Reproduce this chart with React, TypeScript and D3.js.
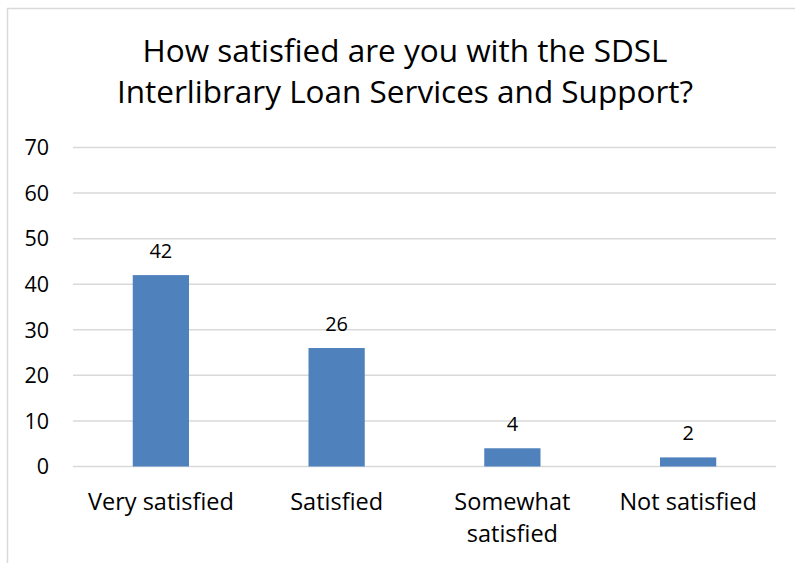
import { useEffect, useRef } from 'react';
import * as d3 from 'd3';

// Survey answers and counts
const categories = ['Very satisfied', 'Satisfied', 'Somewhat satisfied', 'Not satisfied'];
const counts = [42, 26, 4, 2];
const yTicks = [0, 10, 20, 30, 40, 50, 60, 70];
const titleLines = ['How satisfied are you with the SDSL', 'Interlibrary Loan Services and Support?'];

const width = 795;
const height = 563;
const margin = { top: 147.5, right: 19, bottom: 96.5, left: 73 };
const FONT = '"Open Sans", Lato, sans-serif';

export default function App() {
  const svgRef = useRef<SVGSVGElement>(null);

  useEffect(() => {
    if (!svgRef.current) return;
    const svg = d3.select(svgRef.current);
    svg.selectAll('*').remove();

    const innerWidth = width - margin.left - margin.right;
    const innerHeight = height - margin.top - margin.bottom;

    const x = d3.scaleBand().domain(categories).range([0, innerWidth]).paddingInner(0.68).paddingOuter(0.34);
    const y = d3.scaleLinear().domain([0, 70]).range([innerHeight, 0]);

    // chart frame
    svg.append('rect')
      .attr('x', 7.5)
      .attr('y', 8.5)
      .attr('width', width + 20)
      .attr('height', height + 20)
      .attr('fill', '#fff')
      .attr('stroke', '#d9d9d9')
      .attr('stroke-width', 1.5);

    // title
    svg.append('text')
      .attr('text-anchor', 'middle')
      .attr('font-family', FONT)
      .attr('font-size', 31.5)
      .attr('fill', '#000')
      .selectAll('tspan')
      .data(titleLines)
      .join('tspan')
      .attr('x', 405)
      .attr('y', (_, i) => 62 + i * 41)
      .text((d) => d);

    const g = svg.append('g').attr('transform', `translate(${margin.left}, ${margin.top})`);

    // gridlines
    g.selectAll('.grid')
      .data(yTicks)
      .join('line')
      .attr('x1', 0)
      .attr('x2', innerWidth)
      .attr('y1', (d) => y(d))
      .attr('y2', (d) => y(d))
      .attr('stroke', '#d9d9d9')
      .attr('stroke-width', 1.5);

    // y tick labels
    g.selectAll('.ytick')
      .data(yTicks)
      .join('text')
      .attr('x', -24)
      .attr('y', (d) => y(d))
      .attr('dy', '0.36em')
      .attr('text-anchor', 'end')
      .attr('font-family', FONT)
      .attr('font-size', 21.5)
      .attr('fill', '#000')
      .text((d) => d);

    // bars
    g.selectAll('.bar')
      .data(counts)
      .join('rect')
      .attr('x', (_, i) => x(categories[i])!)
      .attr('y', (d) => y(d))
      .attr('width', x.bandwidth())
      .attr('height', (d) => innerHeight - y(d))
      .attr('fill', '#4f81bd');

    // value labels
    g.selectAll('.val')
      .data(counts)
      .join('text')
      .attr('x', (_, i) => x(categories[i])! + x.bandwidth() / 2)
      .attr('y', (d) => y(d) - 17)
      .attr('text-anchor', 'middle')
      .attr('font-family', FONT)
      .attr('font-size', 20)
      .attr('fill', '#000')
      .text((d) => d);

    // category labels (wrapped when too long)
    categories.forEach((c) => {
      const words = c.split(' ');
      const lines = c.length > 16 ? [words[0], words.slice(1).join(' ')] : [c];
      const t = g.append('text')
        .attr('text-anchor', 'middle')
        .attr('font-family', FONT)
        .attr('font-size', 23.5)
        .attr('fill', '#000');
      lines.forEach((ln, i) => {
        t.append('tspan')
          .attr('x', x(c)! + x.bandwidth() / 2)
          .attr('y', innerHeight + 43.5 + i * 32)
          .text(ln);
      });
    });
  }, []);

  return (
    <svg
      ref={svgRef}
      width={width}
      height={height}
      style={{ position: 'absolute', left: 0, top: 0, background: '#fff' }}
    />
  );
}
